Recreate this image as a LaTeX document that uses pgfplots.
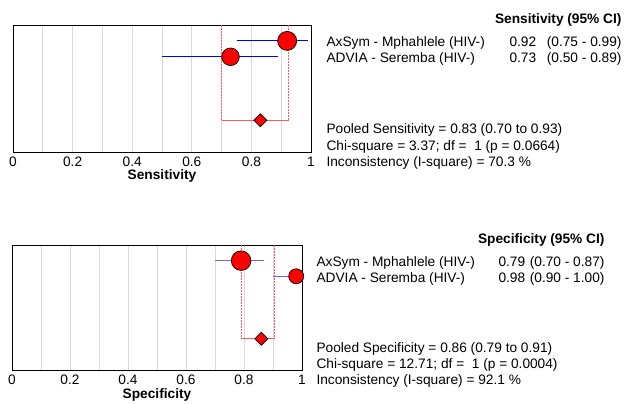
\documentclass[border=0pt]{standalone}
\usepackage{fontspec}
\setmainfont{Liberation Sans}
\usepackage{pgfplots}
\pgfplotsset{compat=1.18}
\definecolor{pooled}{RGB}{255,90,90}
\definecolor{ciblue}{RGB}{0,0,255}
\definecolor{ciblue2}{RGB}{100,100,255}
\newcommand{\tf}{\fontsize{13.7bp}{16bp}\selectfont}
\pgfplotsset{
  fp/.style={
    anchor=south west, scale only axis,
    xmin=0, xmax=1, ymin=0, ymax=8, y dir=reverse,
    ytick=\empty,
    xtick={0,0.2,0.4,0.6,0.8,1},
    minor xtick={0.1,0.3,0.5,0.7,0.9},
    xmajorgrids, xminorgrids,
    major grid style={black!15, line width=0.9bp},
    minor grid style={black!15, line width=0.9bp},
    major tick length=0pt, minor tick length=0pt,
    axis line style={line width=0.9bp},
    tick label style={font=\tf},
    /pgf/number format/assume math mode=true,
    xlabel style={font=\tf\bfseries, yshift=3.5bp},
    xticklabel style={yshift=-1.5bp},
  }
}
\begin{document}
\begin{tikzpicture}[x=1bp,y=1bp]
\path[use as bounding box] (0,0) rectangle (630,-403);
% ---------- Sensitivity ----------
\begin{axis}[fp, at={(13bp,-152bp)}, width=298bp, height=127bp, xlabel={Sensitivity}]
\addplot[pooled, line width=0.8bp, dash pattern=on 2bp off 1bp] coordinates {(0.70,0) (0.70,6)};
\addplot[pooled, line width=0.8bp, dash pattern=on 2bp off 1bp] coordinates {(0.925,0) (0.925,6)};
\addplot[pooled, line width=1bp] coordinates {(0.70,6) (0.925,6)};
\addplot[only marks, mark=*, mark size=9.5bp, mark options={fill=red, draw=black, line width=0.7bp}] coordinates {(0.92,1)};
\addplot[only marks, mark=*, mark size=8.8bp, mark options={fill=red, draw=black, line width=0.7bp}] coordinates {(0.73,2)};
\addplot[ciblue, line width=1bp] coordinates {(0.75,1) (0.99,1)};
\addplot[ciblue, line width=1bp] coordinates {(0.50,2) (0.89,2)};
\addplot[only marks, mark=square*, mark size=4.6bp, mark options={rotate=45, fill=red, draw=black, line width=0.7bp}] coordinates {(0.83,6)};
\end{axis}
\node[anchor=base east, font=\tf\bfseries] at (625,-23) {Sensitivity (95\% CI)};
\node[anchor=base west, font=\tf] at (323,-46) {AxSym - Mphahlele (HIV-)};
\node[anchor=base west, font=\tf] at (323,-62) {ADVIA - Seremba (HIV-)};
\node[anchor=base west, font=\tf] at (506,-46) {0.92};
\node[anchor=base west, font=\tf] at (506,-62) {0.73};
\node[anchor=base east, font=\tf] at (625,-46) {(0.75 - 0.99)};
\node[anchor=base east, font=\tf] at (625,-62) {(0.50 - 0.89)};
\node[anchor=base west, font=\tf] at (323,-133) {Pooled Sensitivity = 0.83 (0.70 to 0.93)};
\node[anchor=base west, font=\tf] at (323,-150) {Chi-square = 3.37; df =\ \ 1 (p = 0.0664)};
\node[anchor=base west, font=\tf] at (323,-166) {Inconsistency (I-square) = 70.3 \%};
% ---------- Specificity ----------
\begin{axis}[fp, at={(12bp,-370bp)}, width=290bp, height=125bp, xlabel={Specificity}]
\addplot[pooled, line width=0.8bp, dash pattern=on 2bp off 1bp] coordinates {(0.79,0) (0.79,6)};
\addplot[pooled, line width=0.8bp, dash pattern=on 2bp off 1bp] coordinates {(0.905,0) (0.905,6)};
\addplot[pooled, line width=1bp] coordinates {(0.79,6) (0.905,6)};
\addplot[only marks, mark=*, mark size=9.8bp, mark options={fill=red, draw=black, line width=0.7bp}] coordinates {(0.79,1)};
\addplot[only marks, mark=*, mark size=7.5bp, mark options={fill=red, draw=black, line width=0.7bp}] coordinates {(0.98,2)};
\addplot[ciblue2, line width=1bp] coordinates {(0.70,1) (0.87,1)};
\addplot[ciblue2, line width=1bp] coordinates {(0.90,2) (1.00,2)};
\addplot[only marks, mark=square*, mark size=4.6bp, mark options={rotate=45, fill=red, draw=black, line width=0.7bp}] coordinates {(0.86,6)};
\end{axis}
\node[anchor=base east, font=\tf\bfseries] at (608,-243) {Specificity (95\% CI)};
\node[anchor=base west, font=\tf] at (313,-266) {AxSym - Mphahlele (HIV-)};
\node[anchor=base west, font=\tf] at (313,-282) {ADVIA - Seremba (HIV-)};
\node[anchor=base west, font=\tf] at (495,-266) {0.79};
\node[anchor=base west, font=\tf] at (495,-282) {0.98};
\node[anchor=base east, font=\tf] at (608,-266) {(0.70 - 0.87)};
\node[anchor=base east, font=\tf] at (608,-282) {(0.90 - 1.00)};
\node[anchor=base west, font=\tf] at (313,-352) {Pooled Specificity = 0.86 (0.79 to 0.91)};
\node[anchor=base west, font=\tf] at (313,-368) {Chi-square = 12.71; df =\ \ 1 (p = 0.0004)};
\node[anchor=base west, font=\tf] at (313,-384) {Inconsistency (I-square) = 92.1 \%};
\end{tikzpicture}
\end{document}
